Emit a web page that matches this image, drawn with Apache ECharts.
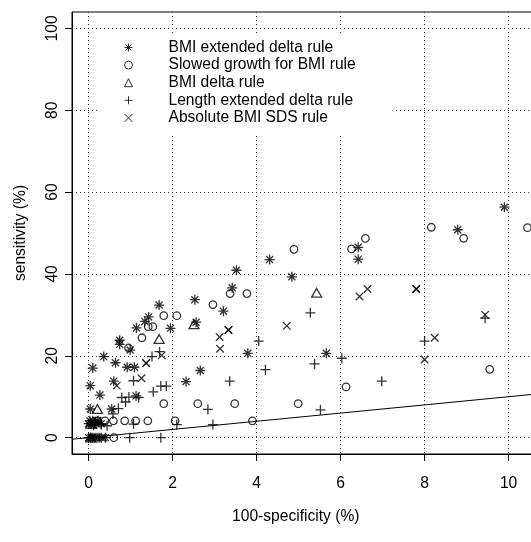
<!DOCTYPE html>
<html><head><meta charset="utf-8">
<script src="https://cdn.jsdelivr.net/npm/echarts@6/dist/echarts.min.js"></script>
<style>html,body{margin:0;padding:0;background:#fff}#c{width:531px;height:542px}</style>
</head><body><div id="c"></div>
<script>
const xTicks = [0, 2, 4, 6, 8, 10];
const yTicks = [0, 20, 40, 60, 80, 100];
const xRange = [-0.395, 11];
const yRange = [-4, 104];
const xTitle = '100-specificity (%)';
const yTitle = 'sensitivity (%)';
const seriesNames = ['BMI extended delta rule', 'Slowed growth for BMI rule', 'BMI delta rule', 'Length extended delta rule', 'Absolute BMI SDS rule'];

const bmiExtended = [[9.90,56.3],[8.79,50.8],[6.42,46.5],[6.42,43.6],[4.31,43.5],[4.84,39.3],[3.52,40.9],[3.42,36.6],[2.53,33.7],[1.68,32.4],[3.21,30.9],[2.56,28.2],[1.43,29.5],[1.34,28.4],[1.14,26.8],[1.95,26.7],[0.74,23.8],[0.74,22.8],[0.99,21.4],[0.36,19.8],[3.79,20.6],[5.66,20.6],[0.64,18.3],[0.92,17.2],[1.09,17.2],[0.10,17.0],[2.66,16.4],[0.60,13.8],[2.32,13.7],[0.04,12.7],[0.27,10.4],[1.13,10.2],[0.55,7.0],[0.04,7.0],[0,3.4],[0.03,4.1],[0.06,3.4],[0.10,4.1],[0.12,3.0],[0.18,3.4],[0.22,4.1],[0.30,3.4],[0,0],[0.05,0],[0.10,0],[0.15,0],[0.20,0],[0.30,0],[0.40,0]];
const slowedGrowth = [[10.45,51.3],[8.16,51.4],[8.93,48.7],[6.59,48.7],[6.26,46.1],[4.89,46.0],[3.37,35.2],[3.77,35.2],[2.96,32.5],[1.79,29.8],[2.10,29.8],[1.42,27.1],[1.53,27.1],[1.27,24.4],[0.95,21.9],[9.55,16.7],[6.13,12.4],[1.79,8.3],[2.60,8.3],[3.48,8.3],[4.99,8.3],[3.90,4.1],[2.06,4.1],[1.41,4.1],[1.12,4.1],[0.86,4.1],[0.59,4.1],[0.39,4.1],[0.20,4.1],[0.60,0]];
const bmiDelta = [[5.43,35.4],[1.68,24.1],[2.51,27.7],[0.21,7.0],[0.05,3.4],[0.05,0]];
const lengthExtended = [[5.28,30.5],[9.44,29.2],[4.05,23.6],[8.00,23.6],[1.69,21.0],[1.51,19.8],[6.03,19.4],[5.38,18.0],[4.21,16.6],[3.36,13.8],[6.98,13.8],[1.07,13.9],[1.72,12.6],[1.85,12.6],[1.54,11.2],[0.79,9.8],[0.96,9.9],[1.19,9.8],[0.88,8.7],[0.71,7.1],[2.84,6.9],[5.52,6.8],[0.58,5.8],[2.10,3.2],[2.96,3.2],[1.07,3.3],[0.44,2.9],[0.30,3.2],[0.15,3.4],[0.98,0],[1.72,0],[0.25,0]];
const absoluteSds = [[7.80,36.3],[7.80,36.3],[6.64,36.3],[6.45,34.5],[4.72,27.3],[3.33,26.3],[3.33,26.3],[3.12,24.6],[3.13,21.7],[8.24,24.4],[8.00,19.1],[9.44,30.0],[1.37,18.2],[1.37,18.2],[1.26,14.5],[0.67,12.7],[1.74,20.1],[0.10,3.4],[0.20,4.1],[0.08,0],[0.35,0]];

const chanceLine = [[xRange[0], xRange[0]], [xRange[1], xRange[1]]];

const FONT = "'Liberation Sans', Arial, sans-serif";
const FS = 15.6;
const ASTER = 'path://M0,-1L0,1M-1,0L1,0M-0.7071,-0.7071L0.7071,0.7071M-0.7071,0.7071L0.7071,-0.7071';
const PLUS = 'path://M0,-1L0,1M-1,0L1,0';
const CROSS = 'path://M-1,-1L1,1M-1,1L1,-1';
const strokeStyle = {color: 'rgba(0,0,0,0)', borderColor: '#000', borderWidth: 1.3};

function sc(name, data, symbol, size) {
  return {type: 'scatter', name, data, symbol, symbolSize: size, symbolKeepAspect: true,
    itemStyle: strokeStyle, emphasis: {disabled: true}, silent: true, z: 3};
}

const chart = echarts.init(document.getElementById('c'), null, {renderer: 'canvas'});
chart.setOption({
  animation: false,
  backgroundColor: '#fff',
  textStyle: {fontFamily: FONT},
  grid: {left: 72, top: 12, width: (xRange[1] - xRange[0]) * 42, height: 442,
    show: true, borderColor: '#000', borderWidth: 1, backgroundColor: 'transparent',
    containLabel: false, outerBoundsMode: 'none'},
  legend: {
    orient: 'vertical', left: 100, top: 33, backgroundColor: '#fff',
    padding: [6.5, 37, 7.1, 24], itemWidth: 8, itemHeight: 8, itemGap: 1.6,
    selectedMode: false, z: 10,
    itemStyle: {borderWidth: 1},
    textStyle: {fontSize: FS, fontFamily: FONT, color: '#000', lineHeight: 16, padding: [0, 0, 0, 31]},
    data: seriesNames
  },
  xAxis: {
    type: 'value', min: xRange[0], max: xRange[1],
    axisLine: {show: true, onZero: false, lineStyle: {color: '#000', width: 1}},
    axisTick: {show: true, length: 7, customValues: xTicks, lineStyle: {color: '#000', width: 1}},
    axisLabel: {customValues: xTicks, margin: 22, color: '#000', fontSize: FS, fontFamily: FONT},
    splitLine: {show: true, lineStyle: {color: '#333', type: [1, 3], width: 1}},
    name: xTitle, nameLocation: 'middle', nameGap: 55,
    nameTextStyle: {color: '#000', fontSize: FS, fontFamily: FONT, padding: [0, 31, 0, 0]}
  },
  yAxis: {
    type: 'value', min: yRange[0], max: yRange[1],
    axisLine: {show: true, onZero: false, lineStyle: {color: '#000', width: 1}},
    axisTick: {show: true, length: 7, customValues: yTicks, lineStyle: {color: '#000', width: 1}},
    axisLabel: {customValues: yTicks, rotate: 90, margin: 11, color: '#000', fontSize: FS, fontFamily: FONT},
    splitLine: {show: true, lineStyle: {color: '#333', type: [1, 3], width: 1}},
    name: yTitle, nameLocation: 'middle', nameGap: 43,
    nameTextStyle: {color: '#000', fontSize: FS, fontFamily: FONT}
  },
  series: [
    sc(seriesNames[0], bmiExtended, ASTER, 10),
    sc(seriesNames[1], slowedGrowth, 'circle', 7.5),
    sc(seriesNames[2], bmiDelta, 'triangle', [10, 8.7]),
    sc(seriesNames[3], lengthExtended, PLUS, 10),
    sc(seriesNames[4], absoluteSds, CROSS, 7.5),
    {type: 'line', data: chanceLine, symbol: 'none', silent: true, z: 2,
      lineStyle: {color: '#000', width: 1}, emphasis: {disabled: true}}
  ]
});
</script></body></html>
